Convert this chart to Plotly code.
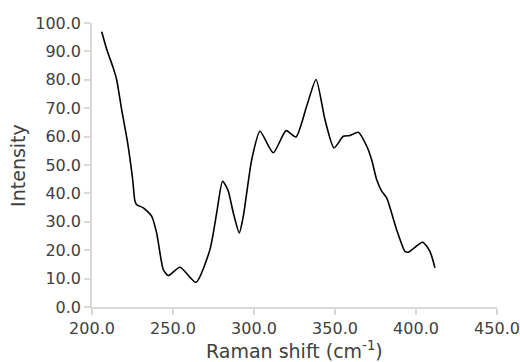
import plotly.graph_objects as go

raman_shift = [206.0, 209.1, 213.1, 215.2, 218.3, 222.0, 225.1, 226.5, 227.6, 231.7, 236.8,
               239.9, 244.0, 247.1, 254.3, 264.2, 272.8, 277.0, 280.6, 284.0, 287.2, 290.9,
               293.4, 298.6, 303.7, 311.9, 319.8, 325.9, 332.5, 338.3, 343.8, 349.4,
               355.1, 359.3, 364.4, 369.6, 372.6, 375.7, 378.8, 381.9, 388.0, 393.2,
               395.2, 404.1, 408.6, 411.7]
intensity = [96.9, 90.7, 84.2, 80.1, 69.5, 57.8, 44.9, 37.3, 36.0, 34.9, 32.0,
             26.1, 13.2, 11.1, 14.0, 8.7, 20.2, 33.2, 44.3, 41.0, 33.2, 26.1,
             32.0, 51.9, 61.9, 54.3, 62.1, 59.9, 70.7, 80.1, 66.0, 56.0,
             60.1, 60.4, 61.5, 56.6, 51.9, 44.9, 40.8, 38.4, 27.3, 19.6,
             19.3, 22.8, 19.6, 13.8]
x_title = "Raman shift (cm<sup>-1</sup>)"
y_title = "Intensity"

fig = go.Figure()
fig.add_trace(go.Scatter(x=raman_shift, y=intensity, mode="lines",
                         line=dict(color="black", width=1.6, shape="spline", smoothing=0.6),
                         showlegend=False))

axis_color = "#d9d9d9"
text_color = "#404040"
fig.update_layout(
    width=520, height=362,
    margin=dict(l=92, r=23, t=23, b=55),
    paper_bgcolor="white", plot_bgcolor="white",
    font=dict(family="DejaVu Sans", size=16, color=text_color),
    xaxis=dict(range=[200, 450], dtick=50, tick0=200, tickformat=".1f", automargin=False,
               showgrid=False, zeroline=False, showline=True, linecolor=axis_color, linewidth=1.5,
               ticks="outside", tickcolor=axis_color, ticklen=6, tickwidth=1.5,
               tickfont=dict(size=16, color=text_color)),
    yaxis=dict(range=[0, 100], dtick=10, tick0=0, tickformat=".1f", automargin=False,
               showgrid=False, zeroline=False, showline=True, linecolor=axis_color, linewidth=1.5,
               ticks="outside", tickcolor=axis_color, ticklen=6, tickwidth=1.5,
               tickfont=dict(size=16, color=text_color)),
    annotations=[
        dict(text=x_title, xref="paper", yref="paper", x=0.5, y=-0.15,
             xanchor="center", yanchor="middle", showarrow=False,
             font=dict(size=19, color=text_color)),
        dict(text=y_title, xref="paper", yref="paper", x=-0.183, y=0.5, textangle=-90,
             xanchor="center", yanchor="middle", showarrow=False,
             font=dict(size=19, color=text_color)),
    ],
)
fig.write_html("out.html")
